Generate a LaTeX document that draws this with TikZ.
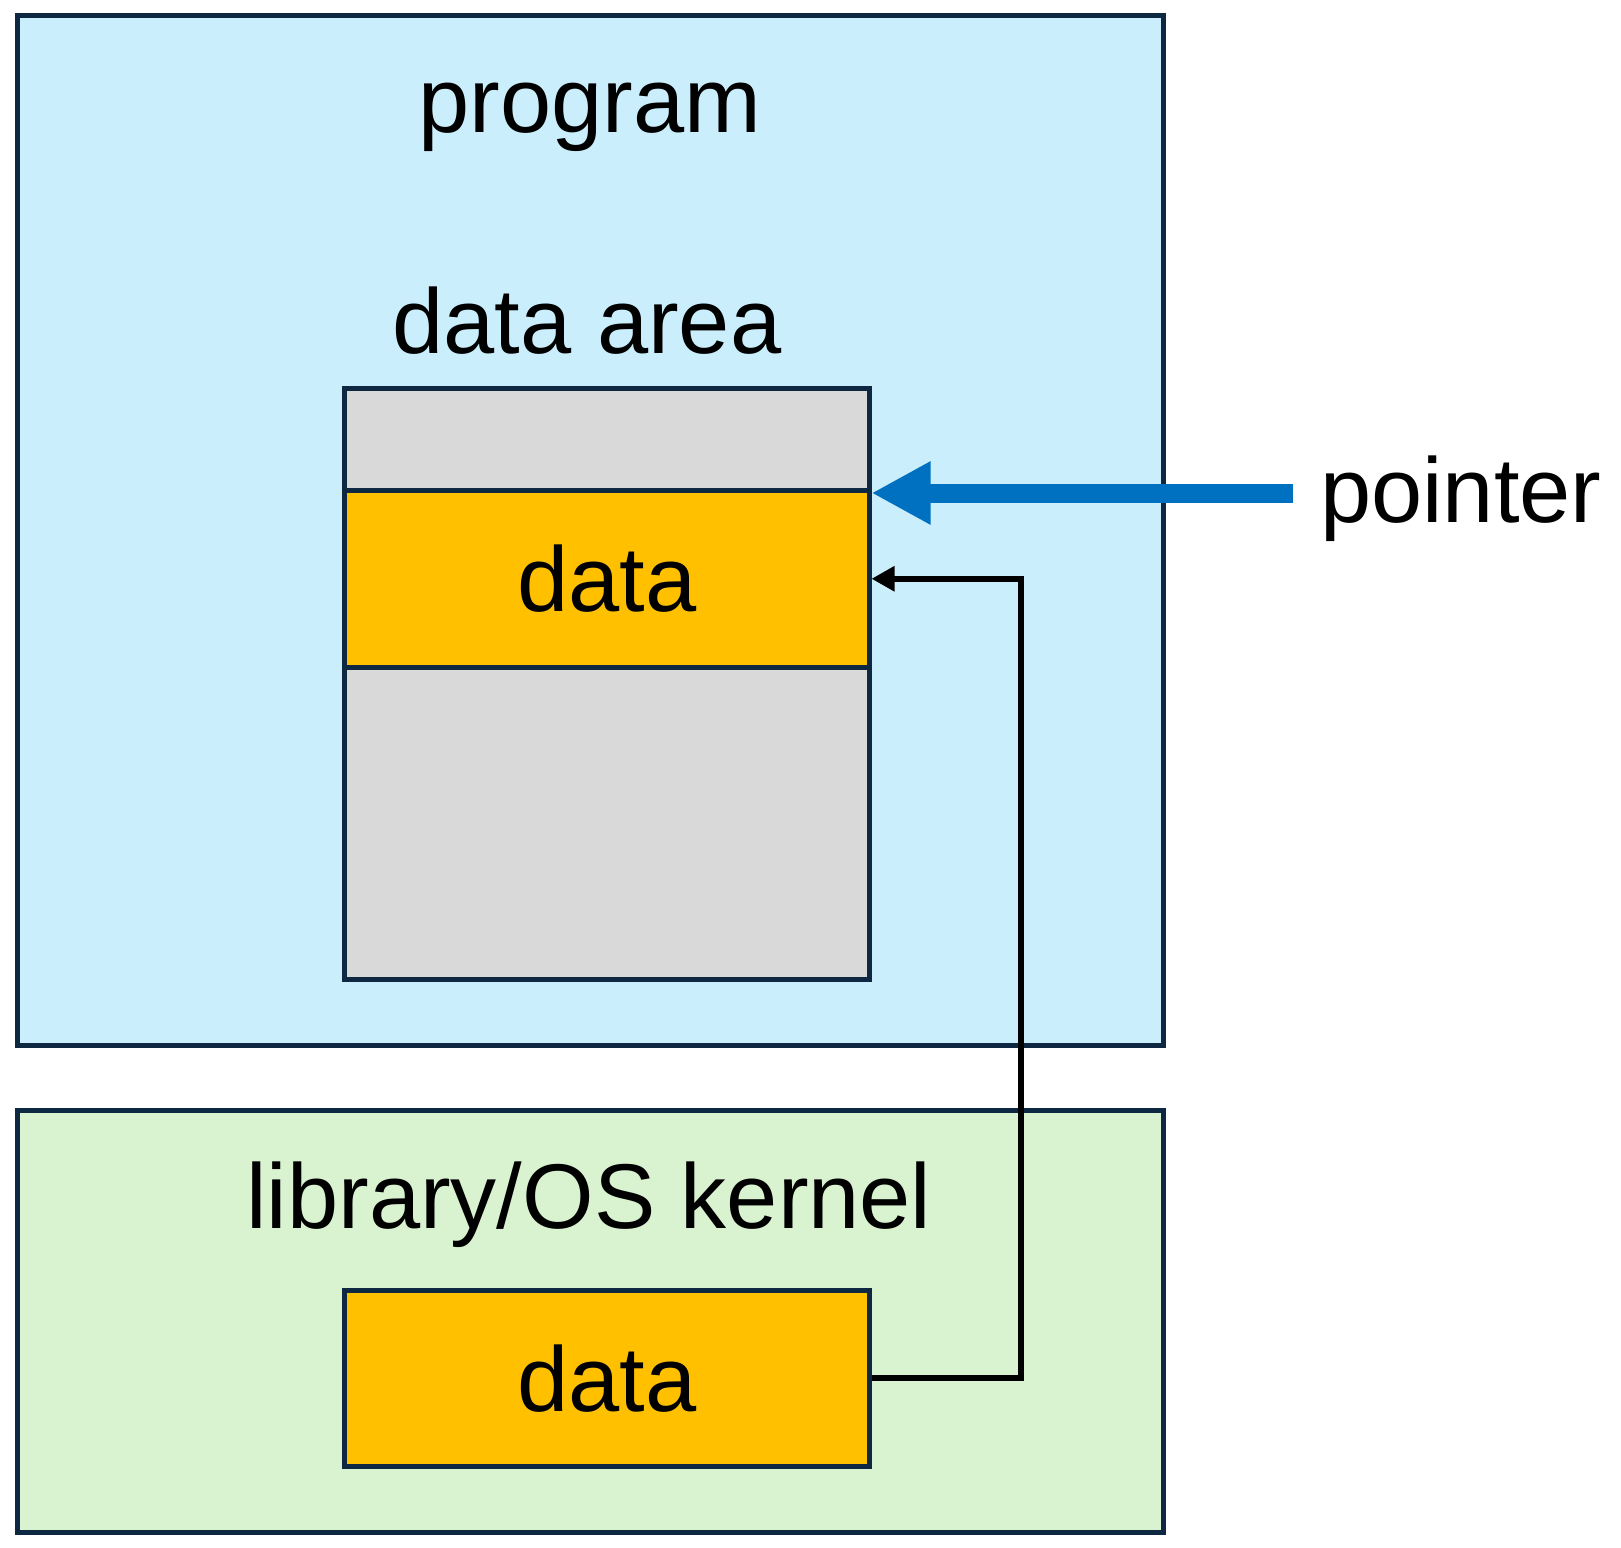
\documentclass[tikz,border=0pt]{standalone}
\usepackage{fontspec}
\setmainfont{Liberation Sans}
\usetikzlibrary{arrows.meta}
\definecolor{progfill}{HTML}{CAEEFB}
\definecolor{libfill}{HTML}{D9F2D0}
\definecolor{cellgray}{HTML}{D9D9D9}
\definecolor{dataorange}{HTML}{FFC000}
\definecolor{edge}{HTML}{0E2841}
\definecolor{ptrblue}{HTML}{0070C0}
\begin{document}
\begin{tikzpicture}[x=1pt,y=-1pt,
  box/.style={draw=edge,line width=5pt,rectangle,inner sep=0pt},
  lbl/.style={font=\fontsize{92}{110}\selectfont,inner sep=0pt,text=black},
  ptr/.style={draw=ptrblue,line width=19pt,-{Triangle[length=59pt,width=59pt]}},
  link/.style={draw=black,line width=6pt,-{Triangle[length=23pt,width=24pt]}}]
\useasboundingbox (0,0) rectangle (1621,1547);
\node[box,fill=progfill,minimum width=1146pt,minimum height=1029.5pt] (prog) at (590.5,530.25) {};
\node[box,fill=libfill,minimum width=1146pt,minimum height=421.5pt] (lib) at (590.5,1321.25) {};
\node[box,fill=cellgray,minimum width=524.7pt,minimum height=102.5pt] (topcell) at (606.65,439.25) {};
\node[box,fill=cellgray,minimum width=524.7pt,minimum height=312pt] (botcell) at (606.65,823) {};
\node[box,fill=dataorange,minimum width=524.7pt,minimum height=176.5pt,lbl] (datacell) at (606.65,578.75) {data};
\node[box,fill=dataorange,minimum width=524.7pt,minimum height=175.5pt,lbl] (kdata) at (606.65,1378.25) {data};
\node[lbl,anchor=base] (progl) at (590,132) {program};
\node[lbl,anchor=base] (areal) at (587,353) {data area};
\node[lbl,anchor=base] (libl) at (589,1228) {library/OS kernel};
\node[lbl,anchor=base west] (pointer) at (1320,522) {pointer};
\coordinate (ptail) at (1292.7,493);
\draw[ptr] (ptail) -- (ptail -| topcell.east);
\draw[link] (kdata.east) -- ++(149.5,0) |- (datacell.east);
\end{tikzpicture}
\end{document}
